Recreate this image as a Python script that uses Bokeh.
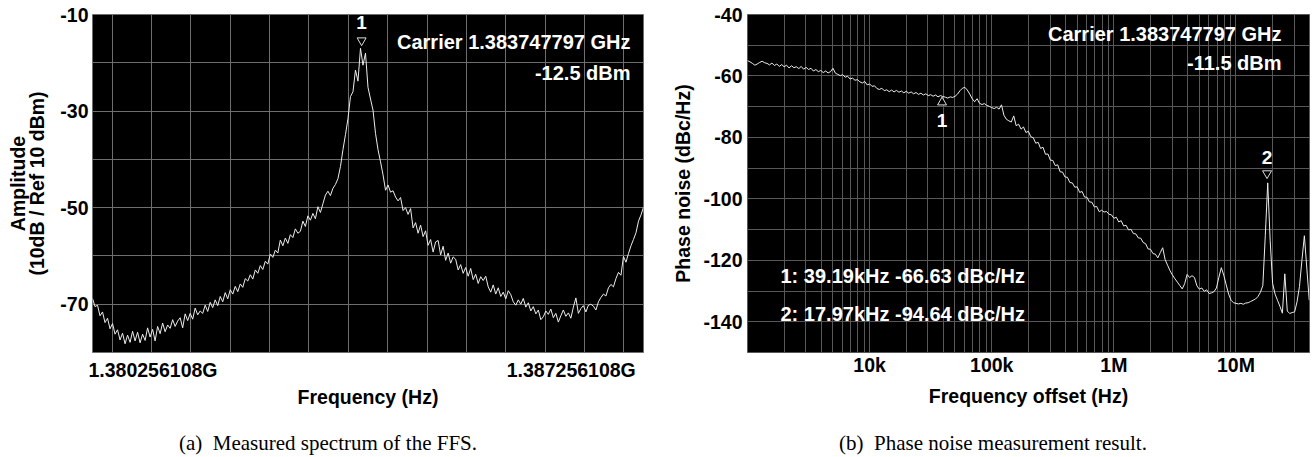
import numpy as np
from bokeh.plotting import figure
from bokeh.models import FixedTicker, Label, Range1d, CustomJSTickFormatter, Div
from bokeh.layouts import row, column
from bokeh.embed import file_html
from bokeh.resources import INLINE

# ---------------- Panel (a): measured spectrum ----------------
sweep_start_hz = 1.379244e9
sweep_stop_hz = 1.388465e9
carrier_hz = 1.383747797e9
amplitude_dbm = [
    -68.8, -70.5, -70.2, -72.4, -71.6, -73.8, -72.9, -75.1, -74.0, -76.2,
    -75.3, -77.4, -76.0, -78.2, -76.4, -77.9, -75.6, -77.6, -75.8, -78.0,
    -76.2, -77.5, -74.9, -76.8, -75.2, -77.6, -74.6, -76.1, -73.9, -75.7,
    -74.3, -75.0, -73.2, -74.6, -73.5, -72.8, -74.9, -72.0, -73.4, -71.9,
    -73.1, -70.8, -72.2, -71.4, -71.9, -70.2, -71.5, -69.6, -70.7, -69.1,
    -70.3, -68.4, -69.5, -67.6, -68.9, -67.0, -67.9, -66.3, -67.4, -65.8,
    -66.5, -64.7, -65.2, -63.9, -64.8, -62.9, -63.6, -62.0, -62.8, -61.1,
    -61.7, -59.6, -60.3, -58.8, -59.4, -56.7, -57.9, -56.3, -57.4, -55.6,
    -56.2, -54.4, -55.3, -54.9, -52.8, -53.9, -51.7, -52.6, -51.2, -52.3,
    -49.8, -51.0, -49.2, -47.4, -46.6, -47.5, -46.0, -45.2, -44.0, -41.5,
    -38.0, -34.9, -31.6, -27.0, -26.0, -21.5, -23.8, -17.0, -20.5, -18.0,
    -25.1, -27.5, -29.8, -34.6, -38.0, -40.5, -43.2, -46.4, -45.3, -46.8,
    -46.5, -47.8, -48.6, -47.9, -50.6, -50.0, -51.4, -50.2, -54.2, -53.1,
    -55.3, -53.6, -56.0, -54.8, -57.8, -56.6, -59.2, -57.1, -56.8, -59.8,
    -58.0, -60.9, -59.4, -61.5, -60.2, -60.7, -62.9, -61.8, -63.6, -62.4,
    -64.2, -62.6, -64.9, -63.8, -65.7, -64.3, -65.1, -64.2, -66.4, -67.5,
    -66.0, -67.9, -66.6, -68.4, -67.5, -68.9, -67.2, -68.0, -69.5, -70.2,
    -69.1, -70.0, -68.8, -70.6, -69.7, -71.4, -70.5, -72.0, -71.2, -73.2,
    -72.6, -71.4, -72.1, -71.0, -72.8, -71.9, -73.7, -72.4, -71.2, -72.5,
    -71.8, -72.9, -70.6, -68.7, -71.9, -70.9, -70.3, -71.6, -70.2, -70.0,
    -70.4, -71.2, -69.5, -68.6, -67.9, -68.3, -66.6, -65.9, -66.4, -64.7,
    -63.4, -64.0, -60.1, -61.3, -59.5, -57.9, -56.6, -55.2, -52.8, -51.5, -49.9,
]
left_tick_hz = [1.380256108e9, 1.387256108e9]
left_tick_labels = ["1.380256108G", "1.387256108G"]
left_y_ticks = [-10, -30, -50, -70]
left_y_range = (-80, -10)
left_carrier_text = "Carrier 1.383747797 GHz"
left_power_text = "-12.5 dBm"
left_marker_name = "1"

# ---------------- Panel (b): phase noise ----------------
offset_start_hz = 1e3
offset_stop_hz = 40e6
phase_noise_dbc = [
    -55.0, -55.4, -55.9, -56.5, -56.1, -55.6, -55.2, -55.7, -55.9, -56.4,
    -55.8, -56.6, -56.1, -56.9, -56.3, -57.0, -56.5, -57.4, -56.7, -57.3,
    -57.0, -57.6, -56.9, -57.8, -57.2, -57.9, -57.5, -58.4, -57.9, -58.6,
    -58.2, -58.9, -58.4, -59.0, -58.6, -57.5, -59.1, -59.5, -59.9, -59.6,
    -60.4, -60.1, -61.0, -60.7, -61.4, -61.2, -61.9, -62.3, -61.8, -62.9,
    -62.6, -63.4, -63.2, -64.1, -64.4, -64.0, -64.8, -64.5, -65.1, -64.6,
    -65.2, -64.7, -65.3, -64.9, -65.5, -65.0, -65.6, -65.2, -65.8, -65.4,
    -66.0, -65.6, -66.2, -65.8, -66.4, -66.1, -66.6, -66.2, -66.8, -66.4,
    -66.7, -66.9, -67.2, -66.8, -67.0, -66.6, -65.9, -64.8, -64.0, -63.7,
    -64.6, -65.9, -67.4, -68.4, -67.4, -68.9, -69.3, -69.0, -69.6, -69.9,
    -70.3, -70.6, -70.2, -70.8, -69.4, -72.8, -74.1, -74.6, -75.0, -73.0,
    -76.2, -75.7, -77.3, -76.6, -78.4, -78.0, -79.8, -80.1, -81.9, -81.6,
    -83.6, -83.2, -85.5, -85.4, -87.4, -87.5, -89.2, -88.9, -91.2, -91.3,
    -92.9, -93.0, -94.7, -94.8, -96.2, -96.1, -97.9, -97.6, -99.4, -99.5,
    -101.0, -101.1, -102.6, -102.5, -104.2, -103.7, -104.3, -104.1, -105.0, -105.2,
    -106.3, -106.0, -107.5, -107.1, -108.8, -108.6, -110.1, -109.9, -111.3, -111.4,
    -112.7, -112.8, -114.2, -114.6, -116.3, -116.4, -117.8, -118.0, -119.2, -117.5,
    -115.9, -119.8, -121.6, -123.4, -124.8, -126.0, -127.1, -128.2, -129.3, -127.6,
    -124.6, -125.6, -125.0, -125.6, -128.3, -129.4, -129.0, -130.1, -129.6, -130.8,
    -130.6, -130.2, -129.0, -125.5, -122.4, -124.8, -128.0, -131.0, -133.0, -133.8,
    -134.0, -134.2, -134.0, -134.3, -133.9, -133.8, -133.4, -133.0, -132.6, -131.8,
    -130.4, -128.2, -112.0, -94.8, -113.5, -127.5, -131.0, -133.0, -135.0, -137.2,
    -124.4, -136.5, -137.3, -137.0, -136.8, -133.5, -128.5, -120.0, -112.0, -122.5, -133.0,
]
right_tick_hz = [1e4, 1e5, 1e6, 1e7]
right_tick_labels = ["10k", "100k", "1M", "10M"]
right_y_ticks = [-40, -60, -80, -100, -120, -140]
right_y_range = (-150, -40)
right_marker_names = ["1", "2"]
right_marker_hz = [39.19e3, 17.97e6]
right_marker_dbc = [-66.63, -94.64]
right_marker_texts = ["1: 39.19kHz -66.63 dBc/Hz", "2: 17.97kHz -94.64 dBc/Hz"]
right_carrier_text = "Carrier 1.383747797 GHz"
right_power_text = "-11.5 dBm"

caption_a = "(a)\u00a0 Measured spectrum of the FFS."
caption_b = "(b)\u00a0 Phase noise measurement result."

# ---------------- styling ----------------
SANS = "Liberation Sans"
SERIF = "Liberation Serif"
FS = "19.5px"
TRACE = "#ececec"

FMT_CODE = """
let b = 0;
for (let i = 0; i < tvals.length; i++) {
  if (Math.abs(Math.log(tvals[i] / tick)) < Math.abs(Math.log(tvals[b] / tick))) b = i;
}
return tlabels[b];
"""
PLAIN_NUM = "return String(tick);"


def style_axes(p, grid_color):
    p.background_fill_color = "black"
    p.border_fill_color = "white"
    p.outline_line_color = grid_color
    p.outline_line_width = 1
    for ax in p.axis:
        ax.axis_line_color = None
        ax.major_tick_line_color = None
        ax.minor_tick_line_color = None
        ax.major_tick_out = 0
        ax.major_tick_in = 0
        ax.minor_tick_out = 0
        ax.minor_tick_in = 0
        ax.major_label_text_font = SANS
        ax.major_label_text_font_style = "bold"
        ax.major_label_text_font_size = FS
        ax.major_label_text_color = "black"
        ax.axis_label_text_font = SANS
        ax.axis_label_text_font_style = "bold"
        ax.axis_label_text_font_size = FS
        ax.axis_label_text_color = "black"
    for g in p.grid:
        g.grid_line_color = grid_color
        g.grid_line_width = 1
        g.grid_line_alpha = 1.0


def white_label(p, text, x, y, align="left", size="20px", x_units="screen", y_units="screen", y_offset=0):
    p.add_layout(Label(x=x, y=y, x_units=x_units, y_units=y_units, text=text,
                       text_align=align, text_baseline="middle", y_offset=y_offset,
                       text_font=SANS, text_font_style="bold", text_font_size=size,
                       text_color="white"))


CAP_H = 32
H = 457 - CAP_H

# ---------- Figure (a) ----------
W1 = 656
B1 = dict(left=92, right=13, top=11, bottom=100 - CAP_H)
p1 = figure(width=W1, height=H, output_backend="svg", toolbar_location=None,
            x_range=Range1d(sweep_start_hz, sweep_stop_hz),
            y_range=Range1d(*left_y_range),
            min_border_left=B1["left"], min_border_right=B1["right"],
            min_border_top=B1["top"], min_border_bottom=B1["bottom"])
freq_hz = np.linspace(sweep_start_hz, sweep_stop_hz, len(amplitude_dbm))
p1.line(freq_hz, amplitude_dbm, line_color=TRACE, line_width=1)

span = sweep_stop_hz - sweep_start_hz
p1.xaxis.ticker = FixedTicker(ticks=left_tick_hz)
p1.xaxis.formatter = CustomJSTickFormatter(args=dict(tvals=left_tick_hz, tlabels=left_tick_labels), code=FMT_CODE)
p1.yaxis.ticker = FixedTicker(ticks=left_y_ticks)
p1.yaxis.formatter = CustomJSTickFormatter(code=PLAIN_NUM)
p1.xgrid.ticker = FixedTicker(ticks=[sweep_start_hz + (k + 0.5) * span / 14 for k in range(14)])
p1.ygrid.ticker = FixedTicker(ticks=list(range(left_y_range[0], left_y_range[1] + 1, 10)))
p1.xaxis.axis_label = "Frequency (Hz)"
p1.yaxis.axis_label = "Amplitude\n(10dB / Ref 10 dBm)"
style_axes(p1, "#6e6e6e")
p1.xaxis.major_label_standoff = 6
p1.xaxis.axis_label_standoff = 2
p1.yaxis.major_label_standoff = 4
p1.yaxis.axis_label_standoff = 9
p1.yaxis.axis_label_text_line_height = 0.9

frame1_h = H - B1["top"] - B1["bottom"]
db_per_px1 = (left_y_range[1] - left_y_range[0]) / frame1_h
peak = max(amplitude_dbm)
p1.scatter([carrier_hz], [peak + 8 * db_per_px1], marker="inverted_triangle", size=9,
           fill_color="black", line_color="#dddddd", line_width=1)
white_label(p1, left_marker_name, carrier_hz, peak, align="center", size="19px",
            x_units="data", y_units="data", y_offset=26)
white_label(p1, left_carrier_text, 538, frame1_h - 35, align="right")
white_label(p1, left_power_text, 538, frame1_h - 66, align="right")

# ---------- Figure (b) ----------
W2 = 660
B2 = dict(left=91, right=7, top=14, bottom=105 - CAP_H)
p2 = figure(width=W2, height=H, output_backend="svg", toolbar_location=None,
            x_axis_type="log",
            x_range=Range1d(offset_start_hz, offset_stop_hz),
            y_range=Range1d(*right_y_range),
            min_border_left=B2["left"], min_border_right=B2["right"],
            min_border_top=B2["top"], min_border_bottom=B2["bottom"])
offset_hz = np.logspace(np.log10(offset_start_hz), 7.6, len(phase_noise_dbc))
p2.line(offset_hz, phase_noise_dbc, line_color=TRACE, line_width=1)

p2.xaxis.ticker = FixedTicker(ticks=right_tick_hz)
p2.xaxis.formatter = CustomJSTickFormatter(args=dict(tvals=right_tick_hz, tlabels=right_tick_labels), code=FMT_CODE)
p2.yaxis.ticker = FixedTicker(ticks=right_y_ticks)
p2.yaxis.formatter = CustomJSTickFormatter(code=PLAIN_NUM)
log_grid = [m * 10 ** e for e in range(3, 8) for m in range(1, 10) if m * 10 ** e <= offset_stop_hz]
p2.xgrid.ticker = FixedTicker(ticks=log_grid)
p2.ygrid.ticker = FixedTicker(ticks=list(range(right_y_range[0], right_y_range[1] + 1, 10)))
p2.xaxis.axis_label = "Frequency offset (Hz)"
p2.yaxis.axis_label = "Phase noise (dBc/Hz)"
style_axes(p2, "#585858")
p2.xaxis.major_label_standoff = 1
p2.xaxis.axis_label_standoff = 6
p2.yaxis.major_label_standoff = 5
p2.yaxis.axis_label_standoff = 6

frame2_h = H - B2["top"] - B2["bottom"]
db_per_px2 = (right_y_range[1] - right_y_range[0]) / frame2_h
p2.scatter([right_marker_hz[0]], [right_marker_dbc[0] - 6 * db_per_px2], marker="triangle", size=9,
           fill_color="black", line_color="#dddddd", line_width=1)
p2.scatter([right_marker_hz[1]], [right_marker_dbc[1] + 9 * db_per_px2], marker="inverted_triangle", size=9,
           fill_color="black", line_color="#dddddd", line_width=1)
white_label(p2, right_marker_names[0], right_marker_hz[0], right_marker_dbc[0], align="center",
            size="19px", x_units="data", y_units="data", y_offset=-24)
white_label(p2, right_marker_names[1], right_marker_hz[1], right_marker_dbc[1], align="center",
            size="19px", x_units="data", y_units="data", y_offset=25)
white_label(p2, right_carrier_text, 534, frame2_h - 19, align="right")
white_label(p2, right_power_text, 534, frame2_h - 48, align="right")
white_label(p2, right_marker_texts[0], 33, 77, align="left")
white_label(p2, right_marker_texts[1], 33, 39, align="left")

# ---------- captions ----------
cap_style = {"font-family": SERIF, "font-size": "21px", "text-align": "center",
             "line-height": "36px", "color": "black", "white-space": "pre"}
div_a = Div(text=caption_a, width=W1, height=CAP_H, margin=0, styles=dict(cap_style))
div_b = Div(text=caption_b, width=W2, height=CAP_H, margin=0,
            styles=dict(cap_style, **{"padding-left": "14px", "box-sizing": "border-box"}))

layout = column(row(p1, p2), row(div_a, div_b))
open("out.html", "w").write(file_html(layout, INLINE))
